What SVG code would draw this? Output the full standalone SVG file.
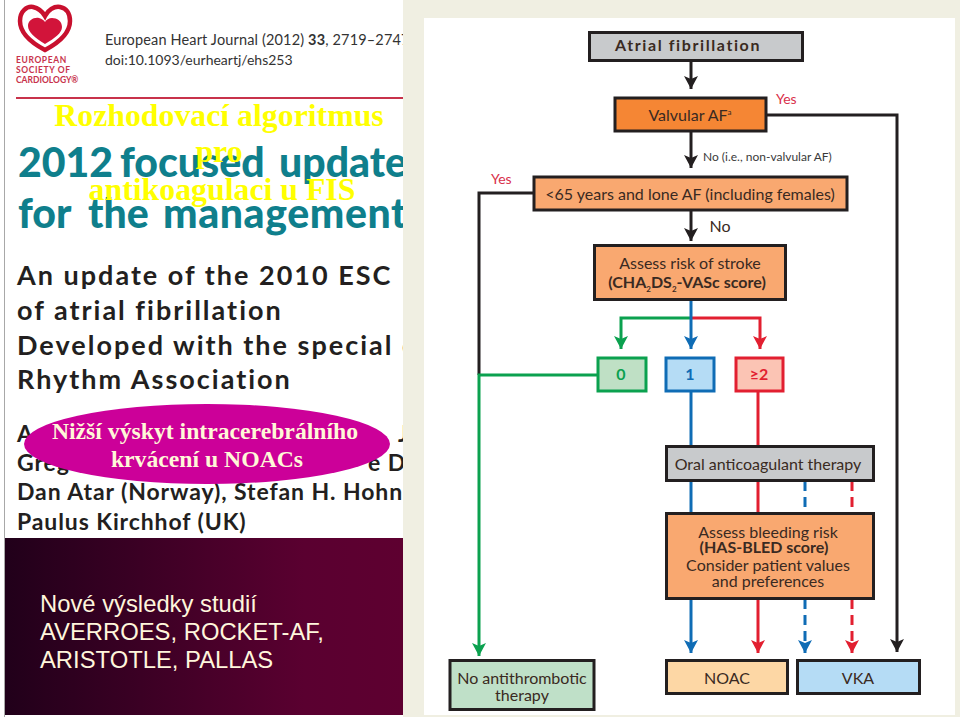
<svg xmlns="http://www.w3.org/2000/svg" width="960" height="717" viewBox="0 0 960 717">
<style>
.j{font-family:Lato,"Liberation Sans",sans-serif}
.h{font-family:Lato,"Liberation Sans",sans-serif;font-weight:900;fill:#0f7f8c;font-size:41px}
.b{font-family:Lato,"Liberation Sans",sans-serif;font-weight:700;fill:#231f20;font-size:27px;letter-spacing:2px}
.a{font-family:Lato,"Liberation Sans",sans-serif;font-weight:700;fill:#231f20;font-size:23px;letter-spacing:.9px}
.y{font-family:"Liberation Serif",serif;font-weight:700;fill:#ffff00;font-size:31.8px;text-anchor:middle}
.e{font-family:"Liberation Serif",serif;font-weight:700;fill:#fff8d8;font-size:23.7px;text-anchor:middle}
.d{font-family:"Liberation Sans",sans-serif;fill:#fff6dc;font-size:23.8px}
.box{stroke:#231f20;stroke-width:3}
.t{font-family:Lato,"Liberation Sans",sans-serif;fill:#3a2a22;font-size:16px;text-anchor:middle}
.tb{font-weight:700}
.l{fill:none;stroke-width:3}
.k{stroke:#231f20}.g{stroke:#0ba14f}.u{stroke:#0f6cb5}.r{stroke:#e21f30}
.dash{stroke-dasharray:10 6}
.yes{font-family:Lato,"Liberation Sans",sans-serif;fill:#d9304a;font-size:14px}
.no{font-family:Lato,"Liberation Sans",sans-serif;fill:#3a3a3a;font-size:12px}
</style>
<defs>
<linearGradient id="dark" x1="0" y1="0" x2="1" y2="0"><stop offset="0" stop-color="#21001a"/><stop offset="0.75" stop-color="#5a0030"/><stop offset="1" stop-color="#5e0030"/></linearGradient>
<marker id="ak" markerUnits="userSpaceOnUse" markerWidth="14" markerHeight="14" refX="13" refY="7" orient="auto"><path d="M0 0L13 7L0 14L3 7Z" fill="#231f20"/></marker>
<marker id="ag" markerUnits="userSpaceOnUse" markerWidth="14" markerHeight="14" refX="13" refY="7" orient="auto"><path d="M0 0L13 7L0 14L3 7Z" fill="#0ba14f"/></marker>
<marker id="au" markerUnits="userSpaceOnUse" markerWidth="14" markerHeight="14" refX="13" refY="7" orient="auto"><path d="M0 0L13 7L0 14L3 7Z" fill="#0f6cb5"/></marker>
<marker id="ar" markerUnits="userSpaceOnUse" markerWidth="14" markerHeight="14" refX="13" refY="7" orient="auto"><path d="M0 0L13 7L0 14L3 7Z" fill="#e21f30"/></marker>
</defs>
<rect width="960" height="717" fill="#fff"/>
<rect x="4" y="0" width="1" height="717" fill="#a8a8a8"/>

<g id="journal-header">
<path d="M45 50C28 41 20 32 20 21C20 11 27 6 33 7C38 8 42 11 45 16C48 10 54 6 60 7C66 8 70 13 70 21C70 32 62 41 45 50Z" fill="none" stroke="#c8102e" stroke-width="4.5"/>
<path d="M45 44C35 38 28 32 28 26C28 20 34 17 39 18C42 19 44 20 45 22C46 20 49 18 52 18C57 18 62 21 62 27C62 33 55 38 45 44Z" fill="#d2143a"/>
<text class="j" x="16" y="63" font-size="8.5" font-weight="700" fill="#c8324b" letter-spacing=".6">EUROPEAN</text>
<text class="j" x="16" y="73" font-size="8.5" font-weight="700" fill="#c8324b" letter-spacing=".6">SOCIETY OF</text>
<text class="j" x="16" y="83" font-size="8.5" font-weight="700" fill="#c8324b">CARDIOLOGY®</text>
<text class="j" x="105" y="45" font-size="14.5" fill="#333" letter-spacing=".15">European Heart Journal (2012) <tspan font-weight="700">33</tspan>, 2719–2747</text>
<text class="j" x="105" y="65" font-size="14" fill="#333">doi:10.1093/eurheartj/ehs253</text>
<rect x="16" y="97" width="388" height="2" fill="#c8324b"/>
<text class="h" x="18" y="177">2012 <tspan x="120">focused</tspan> <tspan x="279">update</tspan></text>
<text class="h" x="18" y="228">for <tspan x="88">the</tspan> <tspan x="163" letter-spacing=".6">management</tspan></text>
<text class="b" x="17" y="285">An update of the 2010 ESC</text>
<text class="b" x="17" y="320">of atrial fibrillation</text>
<text class="b" x="17" y="355">Developed with the special c</text>
<text class="b" x="17" y="389">Rhythm Association</text>
<text class="a" x="17" y="442">A</text>
<text class="a" x="398" y="442">J</text>
<text class="a" x="17" y="471">Greg</text>
<text class="a" x="368" y="471">e D</text>
<text class="a" x="17" y="500">Dan Atar (Norway), Stefan H. Hohnloser</text>
<text class="a" x="17" y="530" letter-spacing="2">Paulus Kirchhof (UK)</text>
</g>

<rect x="403" y="0" width="557" height="717" fill="#f0efe2"/>
<rect x="424" y="18" width="531" height="697" fill="#fff"/>
<rect x="5" y="538" width="398" height="177" fill="url(#dark)"/>

<g id="overlay-title">
<text class="y" x="219" y="126">Rozhodovací algoritmus</text>
<text class="y" x="219" y="162">pro</text>
<text class="y" x="222" y="200">antikoagulaci u FIS</text>
</g>
<g id="ellipse-note">
<ellipse cx="207" cy="444" rx="183" ry="40" fill="#cc0099"/>
<text class="e" x="205" y="439">Nižší výskyt intracerebrálního</text>
<text class="e" x="207" y="467">krvácení u NOACs</text>
</g>
<g id="studies">
<text class="d" x="40" y="612">Nové výsledky studií</text>
<text class="d" x="40" y="640">AVERROES, ROCKET-AF,</text>
<text class="d" x="40" y="668">ARISTOTLE, PALLAS</text>
</g>

<g id="connectors">
<path class="l k" d="M691 61V89" marker-end="url(#ak)"/>
<path class="l k" d="M691 131V168" marker-end="url(#ak)"/>
<path class="l k" d="M691 210V241" marker-end="url(#ak)"/>
<path class="l k" d="M766 115H897V652" marker-end="url(#ak)"/>
<path class="l k" d="M533 193H479V375"/>
<path class="l g" d="M597 375H479V656" marker-end="url(#ag)"/>
<path class="l g" d="M691 318H621V349" marker-end="url(#ag)"/>
<path class="l r" d="M691 318H760V349" marker-end="url(#ar)"/>
<path class="l u" d="M691 300V349" marker-end="url(#au)"/>
<path class="l u" d="M691 392V446"/>
<path class="l r" d="M758 392V446"/>
<path class="l u" d="M691 481V513"/>
<path class="l r" d="M758 481V513"/>
<path class="l u" d="M691 599V653" marker-end="url(#au)"/>
<path class="l r" d="M758 599V653" marker-end="url(#ar)"/>
<path class="l u dash" d="M805 481V513"/>
<path class="l r dash" d="M852 481V513"/>
<path class="l u dash" d="M805 599V653" marker-end="url(#au)"/>
<path class="l r dash" d="M852 599V653" marker-end="url(#ar)"/>
</g>

<g id="labels">
<text class="yes" x="776" y="104">Yes</text>
<text class="yes" x="491" y="184">Yes</text>
<text class="no" x="703" y="161">No (i.e., non-valvular AF)</text>
<text class="t" x="720" y="232" font-size="17">No</text>
</g>

<g id="n-af"><rect class="box" x="589.5" y="32.5" width="213" height="28" fill="#c8cacc"/><text class="t tb" x="688" y="51" font-size="17" letter-spacing="1.6">Atrial fibrillation</text></g>
<g id="n-valvular"><rect class="box" x="615" y="98" width="151" height="33" fill="#f58634"/><text class="t" x="690" y="121" font-size="15.5">Valvular AF<tspan font-size="8" dy="-6">a</tspan></text></g>
<g id="n-lone"><rect class="box" x="534" y="177" width="313" height="33" fill="#f9a870"/><text class="t" x="690" y="200" font-size="15.8">&lt;65 years and lone AF (including females)</text></g>
<g id="n-stroke"><rect class="box" x="594.5" y="245.5" width="191" height="54" fill="#f9a870"/><text class="t" x="690" y="269">Assess risk of stroke</text><text class="t tb" x="687" y="288" font-size="15">(CHA<tspan font-size="8" dy="4">2</tspan><tspan dy="-4">DS</tspan><tspan font-size="8" dy="4">2</tspan><tspan dy="-4">-VASc score)</tspan></text></g>
<g id="n-0"><rect x="598" y="358" width="48" height="33" fill="#bfe0c5" stroke="#0ba14f" stroke-width="3"/><text class="t tb" x="621" y="380" style="fill:#0ba14f">0</text></g>
<g id="n-1"><rect x="666" y="358" width="48" height="33" fill="#b5dcf5" stroke="#0f6cb5" stroke-width="3"/><text class="t tb" x="690" y="380" style="fill:#0f6cb5">1</text></g>
<g id="n-2"><rect x="736" y="358" width="47" height="33" fill="#fbc4b4" stroke="#e21f30" stroke-width="3"/><text class="t tb" x="759" y="380" style="fill:#e21f30">≥2</text></g>
<g id="n-oac"><rect class="box" x="666.5" y="446.5" width="207" height="34" fill="#c8cacc"/><text class="t" x="768" y="470" font-size="15.8">Oral anticoagulant therapy</text></g>
<g id="n-bleeding"><rect class="box" x="666.5" y="513.5" width="207" height="85" fill="#f9a870"/>
<text class="t" x="768" y="538">Assess bleeding risk</text>
<text class="t tb" x="764" y="553" font-size="14.4">(HAS-BLED score)</text>
<text class="t" x="768" y="571">Consider patient values</text>
<text class="t" x="768" y="587">and preferences</text></g>
<g id="n-none"><rect class="box" x="450" y="660.5" width="144" height="49" fill="#bfe0c8"/><text class="t" x="522" y="684">No antithrombotic</text><text class="t" x="522" y="701">therapy</text></g>
<g id="n-noac"><rect class="box" x="666.5" y="660.5" width="121" height="33" fill="#fdd7a5"/><text class="t" x="727" y="684" font-size="17">NOAC</text></g>
<g id="n-vka"><rect class="box" x="797.5" y="660.5" width="122" height="33" fill="#b5dcf5"/><text class="t" x="858" y="684" font-size="17">VKA</text></g>
</svg>
